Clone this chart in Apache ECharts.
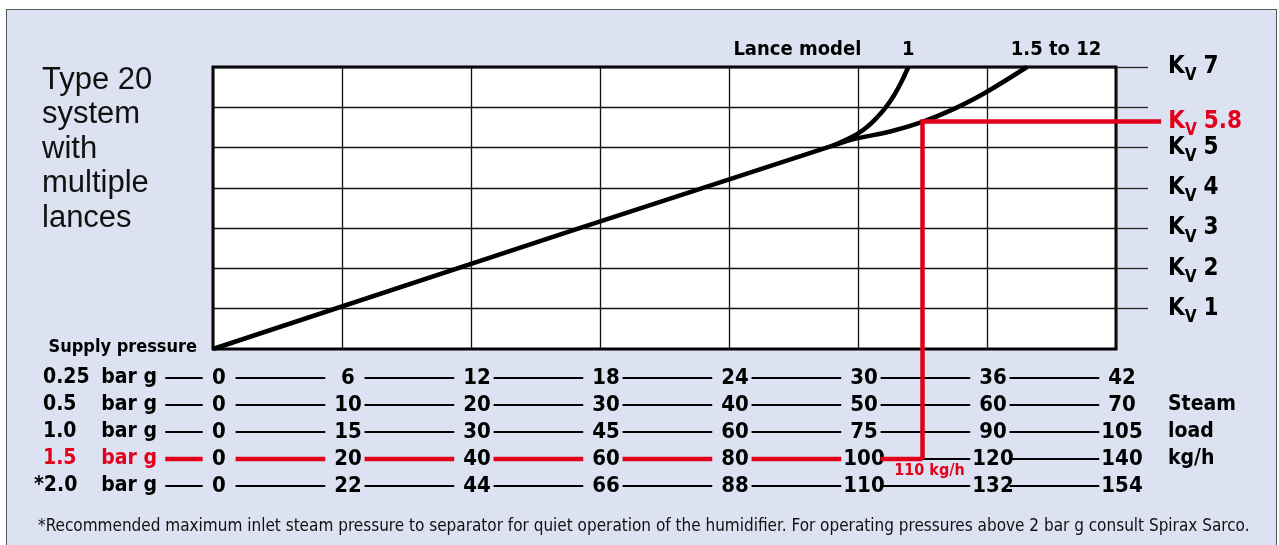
<!DOCTYPE html>
<html>
<head>
<meta charset="utf-8">
<script src="https://cdn.jsdelivr.net/npm/echarts@6/dist/echarts.min.js"></script>
<style>
  html, body { margin: 0; padding: 0; background: #fff; }
  #wrap { position: relative; width: 1279px; height: 545px; overflow: hidden; }
  #panel { position: absolute; left: 6px; top: 9px; width: 1271px; height: 560px; background: #dce2f1; border: 1px solid #555; box-sizing: border-box; }
  #chart { position: absolute; left: 0; top: 0; width: 1279px; height: 545px; }
</style>
</head>
<body>
<div id="wrap"><div id="panel"></div><div id="chart"></div></div>
<script>
const NARROW = '"Liberation Sans Narrow", "Arial Narrow", "DejaVu Sans Condensed", sans-serif';
const RED = '#e2001a';

// Kv scale on the right
const kvTicks = [1, 2, 3, 4, 5, 6, 7];
const kvLabelled = [1, 2, 3, 4, 5, 7];

// curves, x = steam load at 1.5 bar g (kg/h), y = Kv
const lanceMulti = [[0, 0], [98, 5.15], [105, 5.4], [110, 5.64], [114.2, 5.91], [119.6, 6.35], [126.2, 7]];
const lanceOne = [[96, 5.04], [99.7, 5.32], [101.4, 5.51], [102.9, 5.74], [104.3, 6.0], [105.6, 6.3], [106.7, 6.62], [107.8, 7]];
const lanceNames = ['1', '1.5 to 12'];

// worked example (red)
const exampleLoad = 110;
const exampleKv = 5.65;
const exampleKvText = '5.8';
const exampleRow = 3;

// supply pressure rows, top to bottom
const pressures = ['0.25', '0.5', '1.0', '1.5', '*2.0'];
const loads025 = [0, 6, 12, 18, 24, 30, 36, 42];
const loads05 = [0, 10, 20, 30, 40, 50, 60, 70];
const loads10 = [0, 15, 30, 45, 60, 75, 90, 105];
const loads15 = [0, 20, 40, 60, 80, 100, 120, 140];
const loads20 = [0, 22, 44, 66, 88, 110, 132, 154];
const rowLoads = [loads025, loads05, loads10, loads15, loads20];
const unitWords = ['', 'Steam', 'load', 'kg/h', ''];

const chart = echarts.init(document.getElementById('chart'));

const bold = (size, color) => ({ fontSize: size, fontWeight: 'bold', fontFamily: NARROW, color: color || '#000' });

const kvRich = (color) => ({
  k: { ...bold(24, color), lineHeight: 24 },
  v: { ...bold(17, color), lineHeight: 17, padding: [18, 0, 0, 0] },
  n: { ...bold(24, color), lineHeight: 24, padding: [0, 0, 0, 7] }
});
const kvText = (n) => `{k|K}{v|V}{n|${n}}`;
// same styles for a zrender text element (fill instead of color)
const zrRich = (rich) => {
  const out = {};
  Object.keys(rich).forEach((key) => { out[key] = { ...rich[key], fill: rich[key].color }; });
  return out;
};

// category index (axis runs bottom-up)
const rowIndex = (i) => pressures.length - 1 - i;

// leader segments between the row labels
const step = loads15[1] - loads15[0];
function rowSegments() {
  const segs = [[loads15[0] - 0.37 * step, loads15[0] - 0.08 * step]];
  for (let k = 0; k < loads15.length - 1; k++) {
    segs.push([loads15[k] + 0.175 * step, loads15[k] + 0.87 * step]);
  }
  return segs;
}
const blackRows = [];
const redRow = [];
pressures.forEach((p, i) => {
  const y = rowIndex(i);
  rowSegments().forEach(([x0, x1]) => {
    if (i === exampleRow) {
      if (x0 < exampleLoad) redRow.push([x0, y], [Math.min(x1, exampleLoad), y], [x1, null]);
      if (x1 > exampleLoad) blackRows.push([Math.max(x0, exampleLoad), y], [x1, y], [x1, null]);
    } else {
      blackRows.push([x0, y], [x1, y], [x1, null]);
    }
  });
});

const rowsTop = 378;
const rowsStep = 27;
const plotBottom = 349;

const withEndLabel = (pts, label) => pts.map((p, i) => (i === pts.length - 1 ? { value: p, label } : p));

let examplePath = [];

chart.setOption({
  animation: false,
  title: [
    {
      text: 'Type 20\nsystem\nwith\nmultiple\nlances',
      left: 42, top: 63, padding: 0,
      textStyle: { fontSize: 31, fontWeight: 'normal', fontFamily: '"Liberation Sans", Arial, sans-serif', lineHeight: 34.5, color: '#111' }
    },
    {
      text: '*Recommended maximum inlet steam pressure to separator for quiet operation of the humidifier. For operating pressures above 2 bar g consult Spirax Sarco.',
      left: 38, top: 518, padding: 0,
      textStyle: { fontSize: 17, fontWeight: 'normal', fontFamily: NARROW, color: '#111' }
    }
  ],
  grid: [
    { left: 213, right: 163, top: 67, bottom: 545 - plotBottom, show: true, backgroundColor: '#fff', borderColor: '#000', borderWidth: 3 },
    { left: 213, right: 163, top: rowsTop, height: rowsStep * (pressures.length - 1) }
  ],
  xAxis: [
    {
      gridIndex: 0, type: 'value', min: loads15[0], max: loads15[loads15.length - 1], interval: step,
      axisLine: { show: false, onZero: false }, axisTick: { show: false }, axisLabel: { show: false },
      splitLine: { show: true, lineStyle: { color: '#111', width: 1.3 } }
    },
    ...rowLoads.map((vals, i) => ({
      gridIndex: 0, type: 'value', position: 'bottom',
      min: vals[0], max: vals[vals.length - 1], interval: vals[1] - vals[0],
      axisLine: { show: false, onZero: false }, axisTick: { show: false }, splitLine: { show: false },
      axisLabel: {
        customValues: vals, margin: rowsTop + rowsStep * i - plotBottom, verticalAlign: 'middle',
        padding: [0, 0, 0, 12], ...bold(22)
      }
    })),
    { gridIndex: 1, type: 'value', min: loads15[0], max: loads15[loads15.length - 1], show: false }
  ],
  yAxis: [
    {
      gridIndex: 0, type: 'value', position: 'right', min: 0, max: 7, interval: 1,
      axisLine: { show: false, onZero: false },
      axisTick: { show: true, inside: false, customValues: kvTicks, length: 32, lineStyle: { color: '#222', width: 1.3 } },
      axisLabel: { customValues: kvLabelled, margin: 52, formatter: (v) => kvText(v), rich: kvRich('#000') },
      splitLine: { show: true, lineStyle: { color: '#111', width: 1.3 } }
    },
    {
      gridIndex: 1, type: 'category', boundaryGap: false, data: pressures.slice().reverse(),
      axisLine: { show: false, onZero: false }, axisTick: { show: false },
      name: 'Supply pressure', nameLocation: 'end', nameGap: 31,
      nameTextStyle: { ...bold(18), align: 'right', verticalAlign: 'middle', padding: [0, 16, 0, 0] },
      axisLabel: {
        margin: 56, interval: 0,
        formatter: (v) => {
          const red = v === pressures[exampleRow] ? 'r' : '';
          const key = v.startsWith('*') ? 'ps' : 'p' + red;
          return `{${key}|${v}}{b${red}|bar g}`;
        },
        rich: {
          p: { ...bold(21), width: 56, align: 'left' }, ps: { ...bold(21), width: 65, align: 'left' },
          b: { ...bold(21), width: 58, align: 'right' },
          pr: { ...bold(21, RED), width: 56, align: 'left' }, br: { ...bold(21, RED), width: 58, align: 'right' }
        }
      }
    },
    {
      gridIndex: 1, type: 'category', position: 'right', boundaryGap: false, data: unitWords.slice().reverse(),
      axisLine: { show: false, onZero: false }, axisTick: { show: false },
      axisLabel: { margin: 52, align: 'left', interval: 0, ...bold(21) }
    }
  ],
  series: [
    {
      id: 'rows', type: 'line', xAxisIndex: 6, yAxisIndex: 1, data: blackRows, clip: false,
      showSymbol: false, lineStyle: { color: '#000', width: 2 }, z: 2
    },
    {
      id: 'rowRed', type: 'line', xAxisIndex: 6, yAxisIndex: 1, data: redRow, clip: false,
      showSymbol: false, lineStyle: { color: RED, width: 4.5 }, z: 3
    },
    {
      id: 'multi', name: lanceNames[1], type: 'line', xAxisIndex: 0, yAxisIndex: 0, smooth: 0.3, clip: false,
      symbol: 'circle', symbolSize: 1, itemStyle: { color: '#000' }, lineStyle: { color: '#000', width: 4.5 },
      data: withEndLabel(lanceMulti, { show: true, position: 'top', distance: 7, offset: [29, 0], formatter: lanceNames[1], ...bold(20) }),
      z: 4
    },
    {
      id: 'one', name: lanceNames[0], type: 'line', xAxisIndex: 0, yAxisIndex: 0, smooth: 0.4, clip: false,
      symbol: 'circle', symbolSize: 1, itemStyle: { color: '#000' }, lineStyle: { color: '#000', width: 4.5 },
      data: withEndLabel(lanceOne, {
        show: true, position: 'top', distance: 7, align: 'right', offset: [10, 0],
        formatter: `{a|Lance model}{b|${lanceNames[0]}}`,
        rich: { a: { ...bold(20), padding: [0, 37, 0, 0] }, b: { ...bold(20), width: 20, align: 'center' } }
      }),
      z: 4
    },
    {
      id: 'example', type: 'custom', xAxisIndex: 0, yAxisIndex: 0, clip: false, z: 6,
      data: [],
      renderItem: (params, api) => {
        if (params.dataIndex !== 0 || examplePath.length < 3) return null;
        const pts = examplePath.map((p) => api.coord(p));
        const last = pts[pts.length - 1];
        return {
          type: 'group',
          children: [
            { type: 'polyline', shape: { points: pts }, style: { stroke: RED, lineWidth: 4.5, fill: null } },
            {
              type: 'text', x: pts[0][0] + 7, y: pts[0][1] + 4,
              style: { text: exampleLoad + ' kg/h', fill: RED, fontSize: 16, fontWeight: 'bold', fontFamily: NARROW, align: 'center', verticalAlign: 'top' }
            },
            {
              type: 'text', x: last[0] + 7, y: last[1],
              style: { text: kvText(exampleKvText), rich: zrRich(kvRich(RED)), fill: RED, align: 'left', verticalAlign: 'middle' }
            }
          ]
        };
      }
    }
  ]
});

// tie the red example from the 1.5 bar g row up to the Kv line
const rowPx = chart.convertToPixel({ xAxisIndex: 6, yAxisIndex: 1 }, [exampleLoad, rowIndex(exampleRow)]);
const rowVal = chart.convertFromPixel({ xAxisIndex: 0, yAxisIndex: 0 }, rowPx);
const kvEnd = loads15[loads15.length - 1] + 0.35 * step;
examplePath = [[exampleLoad, rowVal[1]], [exampleLoad, exampleKv], [kvEnd, exampleKv]];
chart.setOption({ series: [{ id: 'example', data: examplePath }] });
</script>
</body>
</html>
